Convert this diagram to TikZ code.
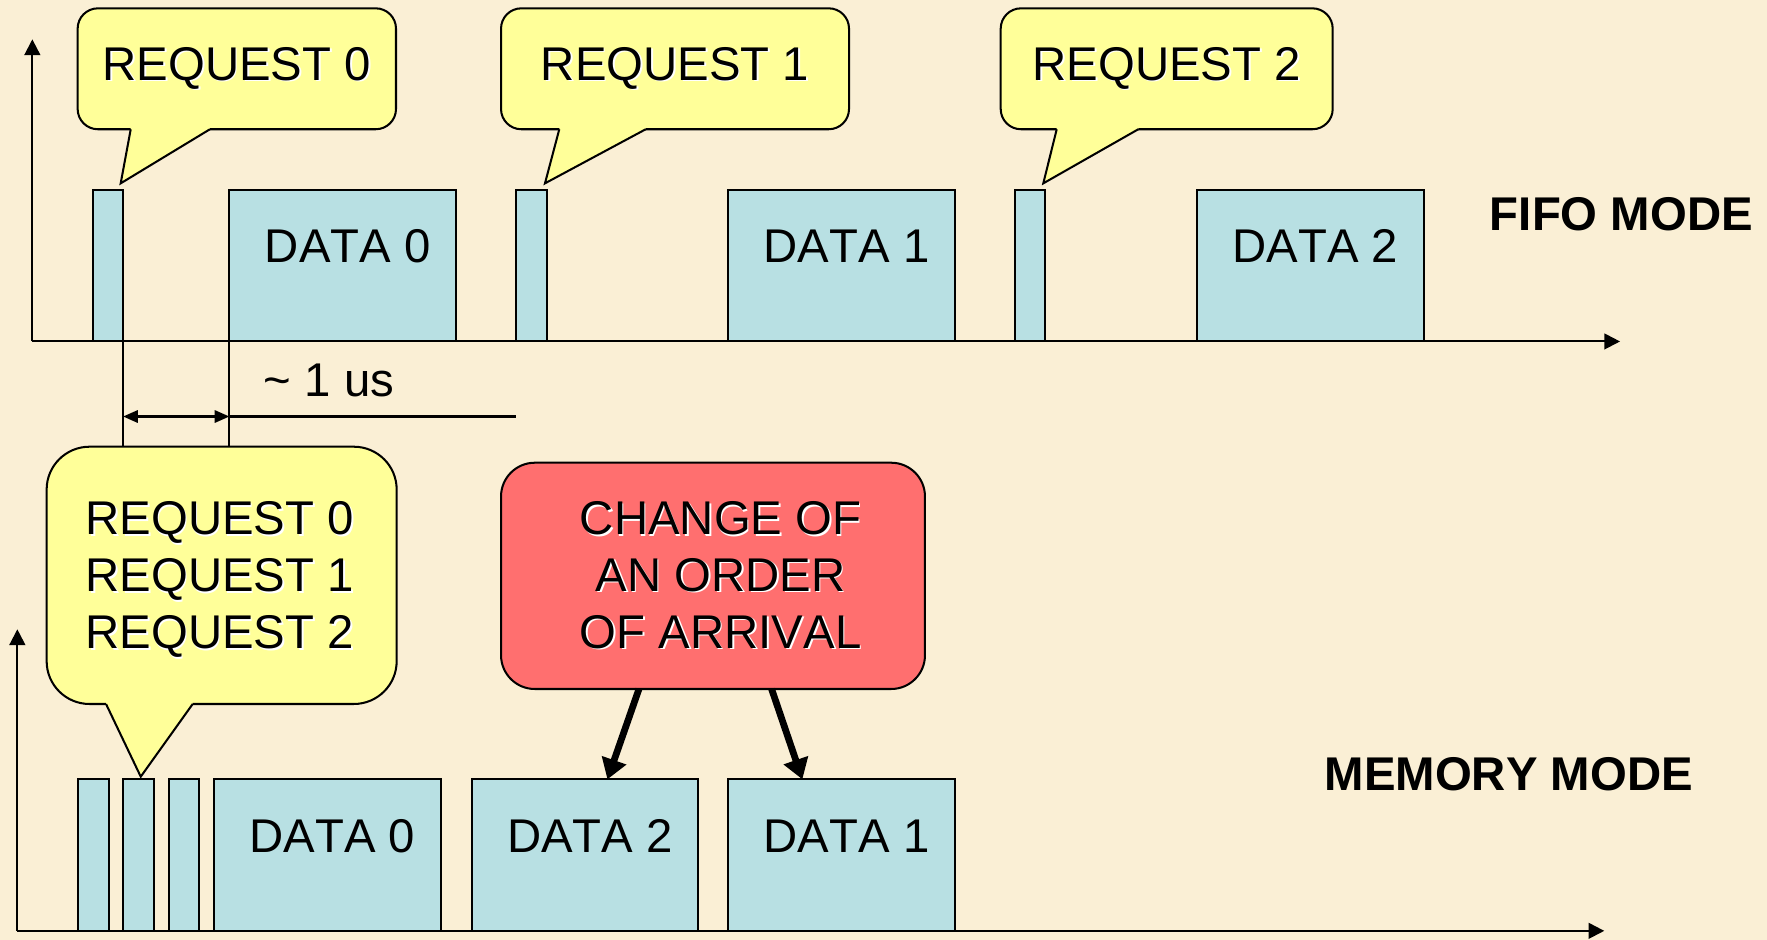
\documentclass[tikz,border=0pt]{standalone}
\usepackage{fontspec}
\setmainfont[Kerning=Off]{Liberation Sans}
\usetikzlibrary{arrows.meta,calc}

\definecolor{parchment}{RGB}{250,239,213}
\definecolor{barblue}{RGB}{184,224,227}
\definecolor{noteyellow}{RGB}{255,255,153}
\definecolor{alertred}{RGB}{255,111,111}

\tikzset{dimtip/.tip={Triangle[length=6.5pt,width=5.5pt]}}

% text with a light emboss shadow
\newcommand\embossed[1]{\leavevmode\rlap{\kern0.7pt\raisebox{-0.7pt}{\color{white}#1}}#1}
\newcommand\slidefont{\fontsize{21}{25.25}\selectfont}

% wedge of a speech bubble: base x1, base x2, base y, tip x, tip y
\newcommand\calloutptr[5]{%
  \fill[noteyellow] (#1,#3-2.2) -- (#1,#3) -- (#4,#5) -- (#2,#3) -- (#2,#3-2.2) -- cycle;
  \draw[line] (#1,#3) -- (#4,#5) -- (#2,#3);}

\begin{document}
\begin{tikzpicture}[x=0.5pt,y=-0.5pt,
  every node/.style={font=\slidefont, inner sep=0pt, outer sep=0pt},
  line/.style={line width=0.9pt, draw=black},
  bar/.style={line, fill=barblue, rectangle, minimum height=67.2pt},
  reqbar/.style={bar, minimum width=13.5pt},
  databar/.style={bar, minimum width=100.65pt, text height=15.3pt, text depth=18pt},
  axis/.style={line, -{Triangle[length=7pt,width=7pt]}},
  bubble/.style={line, fill=noteyellow, rectangle, rounded corners=9pt,
                 minimum height=53.65pt, text height=15.3pt, text depth=5pt},
  modelabel/.style={font=\slidefont\bfseries},
  bigarrow/.style={line width=3pt, -{Triangle[length=9pt,width=11pt]}}
]
\useasboundingbox (0,0) rectangle (1568,834);
\fill[parchment] (0,0) rectangle (1568,834);

% ---------------- FIFO mode ----------------
\coordinate (o1) at (28.7,303);
\draw[axis] (o1) -- (28.7,34.9);
\draw[axis] (o1) -- (1437.6,303);

\node[reqbar]  (r0) at (95.8,235.8)   {};
\node[databar] (d0) at (304.15,235.8) {\hspace*{4.4pt}DATA 0};
\node[reqbar]  (r1) at (471.5,235.8)  {};
\node[databar] (d1) at (746.9,235.8)  {\hspace*{4.4pt}DATA 1};
\node[reqbar]  (r2) at (914,235.8)    {};
\node[databar] (d2) at (1162.85,235.8){\hspace*{4.4pt}DATA 2};

\node[bubble, minimum width=141.25pt] (c0) at (210.15,61.05) {\embossed{REQUEST 0}};
\calloutptr{116}{186.3}{114.7}{107.1}{162.7}
\node[bubble, minimum width=154.4pt] (c1) at (599,61.05) {\embossed{REQUEST 1}};
\calloutptr{496.3}{573}{114.7}{483.6}{162.7}
\node[bubble, minimum width=147.3pt] (c2) at (1035.3,61.05) {\embossed{REQUEST 2}};
\calloutptr{937.7}{1010.1}{114.7}{925.8}{162.7}

\node[modelabel] (fifo) at (1438.8,190) {FIFO MODE};

% ---------------- memory mode ----------------
\coordinate (o2) at (15.4,826);
\draw[axis] (o2) -- (15.4,558.4);
\draw[axis] (o2) -- (1423.6,826);

\node[reqbar]  (m1)  at (82.8,758.8)   {};
\node[reqbar]  (m2)  at (122.8,758.8)  {};
\node[reqbar]  (m3)  at (163.15,758.8) {};
\node[databar] (md0) at (290.55,758.8) {\hspace*{4.4pt}DATA 0};
\node[databar] (md2) at (519.1,758.8)  {\hspace*{4.4pt}DATA 2};
\node[databar] (md1) at (746.9,758.8)  {\hspace*{4.4pt}DATA 1};

\node[line, fill=noteyellow, rectangle, rounded corners=19pt,
      minimum width=155.3pt, minimum height=114.15pt]
  (cm) at (196.7,510.55) {};
\calloutptr{94.1}{171}{624.7}{124.9}{689.2}
\node[align=center] (cmtext) at (195,515)
  {\embossed{REQUEST 0}\\\embossed{REQUEST 1}\\\embossed{REQUEST 2}};

\node[modelabel] (mem) at (1338.8,687) {MEMORY MODE};

% ---------------- delay between request and data ----------------
\draw[line] (r0.south east) -- (r0.south east |- cm.north);
\draw[line] (d0.south west) -- (d0.south west |- cm.north);
\coordinate (dl) at (r0.east |- 0,369.6);
\coordinate (dr) at (d0.west |- 0,369.6);
\draw[line, dimtip-dimtip] (dl) -- (dr);
\draw[line] (dr) -- (dr -| r1.west);
\node (gap) at (292,338) {\textasciitilde\ 1 us};

% ---------------- reordering note ----------------
\node[line, fill=alertred, rectangle, rounded corners=15pt,
      minimum width=188.1pt, minimum height=100.4pt, align=center]
  (rb) at (632.7,511)
  {\hspace*{6.8pt}\embossed{CHANGE OF}\\\hspace*{6.8pt}\embossed{AN ORDER}\\\hspace*{6.8pt}\embossed{OF ARRIVAL}};
\draw[bigarrow] (567,0 |- rb.south) -- (539,0 |- md2.north);
\draw[bigarrow] (684.7,0 |- rb.south) -- (712,0 |- md1.north);
\end{tikzpicture}
\end{document}
